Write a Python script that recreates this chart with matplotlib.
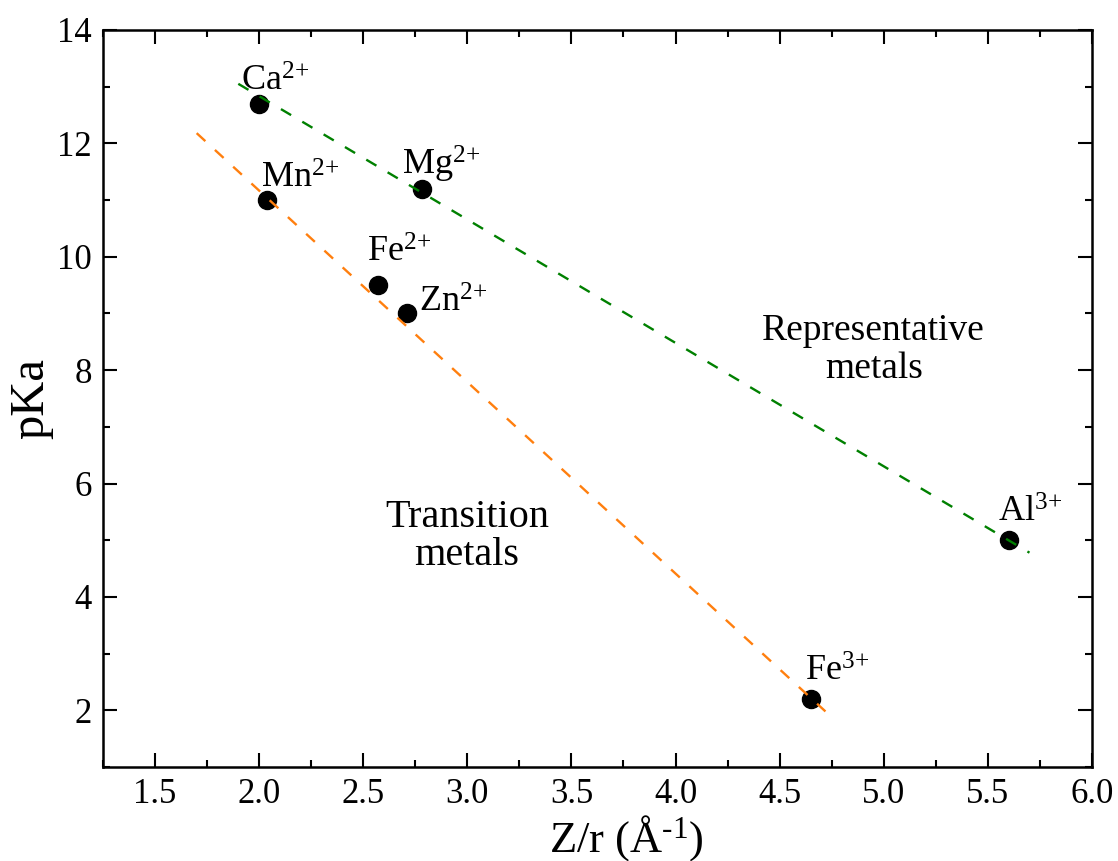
import numpy as np
import matplotlib
matplotlib.use("Agg")
import matplotlib.pyplot as plt
from matplotlib.ticker import MultipleLocator, FormatStrFormatter

plt.rcParams['font.family'] = ['Liberation Serif', 'DejaVu Serif']
plt.rcParams['mathtext.fontset'] = 'custom'
plt.rcParams['mathtext.rm'] = 'Liberation Serif'
plt.rcParams['mathtext.it'] = 'Liberation Serif:italic'

# Ions: Z/r (1/A) and pKa
ions = ['Ca', 'Mg', 'Al', 'Mn', 'Fe', 'Zn', 'Fe']
charges = ['2+', '2+', '3+', '2+', '2+', '2+', '3+']
zr = [2.00, 2.78, 5.60, 2.04, 2.57, 2.71, 4.65]
pka = [12.7, 11.2, 5.0, 11.0, 9.5, 9.0, 2.2]

# fitted trend lines (end points)
rep_x = [1.90, 5.70]
rep_y = [13.05, 4.78]
tra_x = [1.70, 4.72]
tra_y = [12.18, 1.98]

# label offsets in points (dx, dy) relative to each marker
offsets = [(-13, 9), (-14, 10), (-8, 13), (-5, 9), (-8, 17), (9, 1), (-4, 13)]

fig = plt.figure(figsize=(11.18, 8.61), dpi=100)
ax = fig.add_axes([0.0921, 0.1092, 0.8846, 0.8560])

ax.plot(zr, pka, 'o', color='black', markersize=13, zorder=2)
ax.plot(rep_x, rep_y, '--', color='#008000', lw=1.7, dashes=(5, 5.5), zorder=3)
ax.plot(tra_x, tra_y, '--', color='#ff7f0e', lw=1.7, dashes=(5, 5.5), zorder=3)

for name, ch, x, y, (dx, dy) in zip(ions, charges, zr, pka, offsets):
    ax.annotate(name + r'$^{\text{' + ch + '}}$', (x, y), xytext=(dx, dy),
                textcoords='offset points', fontsize=26, ha='left', va='baseline')

# va='baseline' on multi-line text aligns the last line
ax.text(4.952, 7.86, 'Representative\nmetals', fontsize=27, ha='center',
        va='baseline', linespacing=1.15)
ax.text(2.998, 4.56, 'Transition\nmetals', fontsize=29, ha='center',
        va='baseline', linespacing=1.05)

ax.set_xlim(1.25, 6.0)
ax.set_ylim(1, 14)
ax.xaxis.set_major_locator(MultipleLocator(0.5))
ax.xaxis.set_minor_locator(MultipleLocator(0.25))
ax.yaxis.set_major_locator(MultipleLocator(2))
ax.yaxis.set_minor_locator(MultipleLocator(1))
ax.xaxis.set_major_formatter(FormatStrFormatter('%.1f'))

ax.tick_params(which='both', direction='in', top=True, right=True, width=1.5,
               labelsize=25)
ax.tick_params(which='major', length=10, pad=8)
ax.tick_params(which='minor', length=5)
for s in ax.spines.values():
    s.set_linewidth(1.8)

ax.set_xlabel(r'Z/r (Å$^{\text{-1}}$)', fontsize=32)
ax.xaxis.set_label_coords(0.529, -0.115)
ax.xaxis.label.set_va('baseline')
ax.set_ylabel('pKa', fontsize=35)
ax.yaxis.set_label_coords(-0.0607, 0.5)
ax.yaxis.label.set_va('baseline')

fig.savefig('out.png', dpi=100)
